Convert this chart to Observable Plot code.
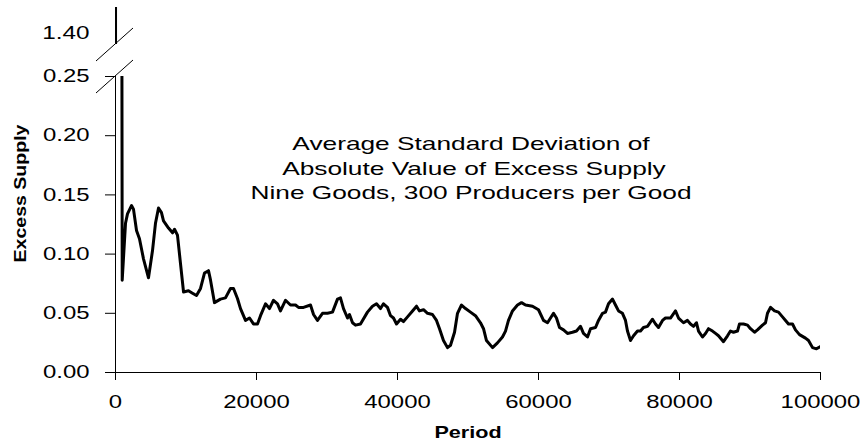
<!DOCTYPE html>
<html><head><meta charset="utf-8">
<script src="https://cdn.jsdelivr.net/npm/d3@7"></script>
<script src="https://cdn.jsdelivr.net/npm/@observablehq/plot@0.6"></script>
<style>
body{margin:0;background:#fff;}
#chart{position:relative;width:865px;height:444px;}
#chart svg{position:absolute;left:0;top:0;background:transparent;overflow:visible;}
</style></head><body><div id="chart"></div>
<script>
// ---- data ----
const periods = [0,50,880,950,1420,1700,2270,2550,2980,3400,3970,4680,5250,5670,6100,6520,6810,7520,8090,8370,8790,9220,9650,10350,10920,11490,12060,12620,13190,13480,14040,14890,15600,16310,16740,17300,17730,18440,19010,19570,20140,20570,21280,21840,22410,22980,23400,24110,24820,25530,25960,26670,27660,28090,28650,29360,30070,30780,31490,31910,32340,32910,33190,33620,34040,34750,35740,36450,37020,37590,38010,38580,39010,39430,39860,40430,40850,41420,42130,42700,43120,43690,44260,44960,45530,45960,46520,47090,47520,48090,48510,49080,49650,50350,51060,51770,52200,52620,53480,54180,54890,55320,55740,56310,57020,57590,58160,59150,60000,60710,61280,62130,62550,62980,63550,64110,64820,65390,65960,66380,66950,67380,68090,68510,69080,69500,69930,70500,70920,71350,71910,72340,72620,73050,73480,74040,74470,74890,75460,76170,76600,77020,77590,78010,78720,79430,79860,80570,81130,81560,81990,82410,82700,83260,83690,84110,84680,85110,85530,86240,86810,87230,87660,88230,88510,89080,89650,90070,90640,91060,91770,92200,92480,92910,93480,94040,94610,95040,95460,96030,96450,97020,97870,98300,98870,99430,100000];
const excessSupply = [1.50,0.60,0.40,0.078,0.126,0.134,0.141,0.138,0.120,0.113,0.096,0.080,0.103,0.126,0.139,0.135,0.128,0.122,0.118,0.121,0.116,0.092,0.068,0.069,0.067,0.065,0.071,0.084,0.086,0.078,0.059,0.062,0.063,0.071,0.071,0.0625,0.054,0.044,0.046,0.041,0.041,0.048,0.058,0.054,0.061,0.058,0.052,0.061,0.057,0.057,0.055,0.055,0.057,0.049,0.044,0.050,0.050,0.051,0.062,0.063,0.054,0.046,0.049,0.042,0.040,0.041,0.051,0.056,0.058,0.054,0.058,0.055,0.048,0.046,0.041,0.045,0.043,0.047,0.052,0.056,0.052,0.053,0.050,0.049,0.044,0.037,0.027,0.021,0.023,0.034,0.050,0.057,0.054,0.051,0.048,0.042,0.037,0.027,0.021,0.025,0.030,0.035,0.044,0.052,0.057,0.059,0.057,0.056,0.053,0.044,0.042,0.050,0.046,0.038,0.036,0.033,0.034,0.035,0.039,0.033,0.030,0.037,0.038,0.044,0.050,0.051,0.058,0.062,0.057,0.052,0.050,0.044,0.035,0.027,0.031,0.035,0.035,0.038,0.039,0.045,0.041,0.038,0.044,0.046,0.046,0.052,0.046,0.042,0.044,0.041,0.039,0.042,0.035,0.030,0.033,0.037,0.035,0.033,0.031,0.026,0.031,0.035,0.034,0.035,0.041,0.041,0.040,0.037,0.034,0.036,0.040,0.042,0.050,0.055,0.052,0.051,0.047,0.044,0.041,0.041,0.036,0.032,0.029,0.027,0.021,0.020,0.022];
const upperTicks = [1.40];
const lowerTicks = [0, 0.05, 0.10, 0.15, 0.20, 0.25];
const xTicks = [0, 20000, 40000, 60000, 80000, 100000];
const upperDomain = [1.3907, 1.422];
const lowerDomain = [0, 0.25];
const xDomain = [0, 100000];
const noteLines = ["Average Standard Deviation of", " Absolute Value of Excess Supply", "Nine Goods, 300 Producers per Good"];
const yLabel = "Excess Supply";
const xLabel = "Period";

const data = periods.map((p, i) => ({period: p, value: excessSupply[i]}));
const FONT = "'Liberation Sans', Arial, sans-serif";
const common = {width: 865, marginLeft: 115, marginRight: 45, style: {background: "transparent", fontFamily: FONT, fontSize: "18px", color: "black", overflow: "visible"}};

const upper = Plot.plot({
  ...common, height: 44, marginTop: 7, marginBottom: 0,
  x: {domain: xDomain, axis: null},
  y: {domain: upperDomain},
  marks: [
    Plot.axisY(upperTicks, {tickSize: 0, tickPadding: 26, tickFormat: d3.format(".2f"), label: null}),
    Plot.ruleX([0], {stroke: "black", strokeWidth: 1}),
    Plot.line(data, {x: "period", y: "value", stroke: "black", strokeWidth: 3, clip: true})
  ]
});

const lower = Plot.plot({
  ...common, height: 444, marginTop: 76, marginBottom: 72,
  x: {domain: xDomain},
  y: {domain: lowerDomain},
  marks: [
    Plot.axisY(lowerTicks, {tickSize: 10, tickPadding: 16, tickFormat: d3.format(".2f"), label: null}),
    Plot.axisX(xTicks, {tickSize: 8, tickPadding: 15, tickFormat: d => String(d), label: null}),
    Plot.ruleX([0], {stroke: "black", strokeWidth: 1}),
    Plot.ruleY([0], {stroke: "black", strokeWidth: 1}),
    Plot.line(data, {x: "period", y: "value", stroke: "black", strokeWidth: 3, clip: true}),
    Plot.text([noteLines.join("\n")], {frameAnchor: "top", lineAnchor: "top", textAnchor: "middle", dy: 56, dx: 3, lineHeight: 1.37, fontSize: 18, fill: "black", className: "note"}),
    Plot.text([xLabel], {frameAnchor: "bottom", lineAnchor: "middle", textAnchor: "middle", dy: 60, fontWeight: "bold", fontSize: 16, fill: "black", className: "xlab"}),
    Plot.text([yLabel], {frameAnchor: "left", textAnchor: "middle", lineAnchor: "middle", rotate: -90, dx: -95, dy: -31, fontWeight: "bold", fontSize: 16, fill: "black", className: "ylab"})
  ]
});

const root = document.getElementById("chart");
root.appendChild(upper);
root.appendChild(lower);

// horizontal stretch of glyphs (reference text is widened)
function stretch(nodes, s) {
  nodes.forEach(t => {
    const bb = t.getBBox();
    const a = getComputedStyle(t).textAnchor;
    const c = a === "end" ? bb.x + bb.width : a === "middle" ? bb.x + bb.width / 2 : bb.x;
    const prev = t.getAttribute("transform") || "";
    t.setAttribute("transform", `${prev} translate(${c},0) scale(${s},1) translate(${-c},0)`);
  });
}
stretch([...upper.querySelectorAll("text")], 1.35);
stretch([...lower.querySelectorAll("g[aria-label='y-axis tick label'] text, g[aria-label='x-axis tick label'] text")], 1.33);
stretch([...lower.querySelectorAll(".note text")], 1.46);
stretch([...lower.querySelectorAll(".xlab text")], 1.35);
lower.querySelectorAll(".ylab text").forEach(t => {
  t.setAttribute("textLength", 138);
  t.setAttribute("lengthAdjust", "spacingAndGlyphs");
});

// axis-break marks, placed from the scales
const sv = d3.select(lower);
const x0 = lower.scale("x").apply(0);
const yBreaks = [upper.scale("y").apply(upperDomain[0]), lower.scale("y").apply(lowerDomain[1])];
yBreaks.forEach(yb => {
  sv.append("line").attr("x1", x0 - 19).attr("y1", yb + 17).attr("x2", x0 + 18).attr("y2", yb - 16)
    .attr("stroke", "black").attr("stroke-width", 1);
});
</script></body></html>
